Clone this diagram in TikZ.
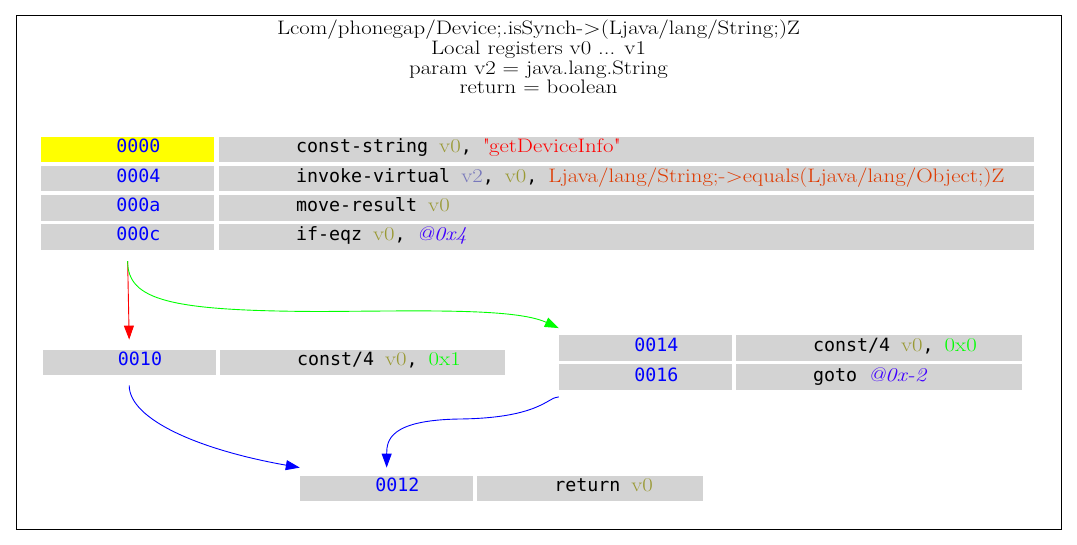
\documentclass[tikz,border=0pt]{standalone}
\usepackage{fontspec}
\setmainfont{Latin Modern Roman}[FakeStretch=1.17]
\setmonofont{DejaVu Sans Mono}
\usetikzlibrary{fit,arrows.meta}
\definecolor{cellgray}{HTML}{D3D3D3}
\definecolor{startyellow}{HTML}{FFFF00}
\definecolor{addrblue}{HTML}{0000FF}
\definecolor{regA}{HTML}{999933}
\definecolor{regC}{HTML}{7777BB}
\definecolor{strred}{HTML}{FF0000}
\definecolor{meth}{HTML}{DF3A01}
\definecolor{lit}{HTML}{00FF00}
\definecolor{offc}{HTML}{4000FF}
\definecolor{jumpblue}{HTML}{0000FF}
\definecolor{truegreen}{HTML}{00FF00}
\definecolor{falsered}{HTML}{FF0000}
\newcommand\monofnt{\fontsize{18.3}{20}\selectfont\ttfamily}
\newcommand\titlefnt{\fontsize{19.5}{20}\selectfont\rmfamily}
\newcommand\R[2]{{\color{#1}\rmfamily\fontsize{19.5}{20}\selectfont #2}}
\newcommand\RI[2]{{\color{#1}\rmfamily\itshape\fontsize{19.5}{20}\selectfont #2}}
\begin{document}
\begin{tikzpicture}[x=1pt,y=-1pt,
  cellbox/.style={fill=cellgray, draw=none, inner sep=0pt},
  addr/.style={anchor=base, inner sep=0pt, font=\monofnt, text=addrblue},
  instr/.style={anchor=base west, inner sep=0pt, font=\monofnt, text=black},
  titleline/.style={anchor=base, inner sep=0pt, font=\titlefnt},
  block/.style={draw=none, inner xsep=3pt},
  edge/.style={-{Triangle[length=14pt,width=10pt]}, line width=0.9pt}
]
\useasboundingbox (0,0) rectangle (1077,545);
\node[draw=black, line width=1pt, inner sep=0pt, fit={(16,16)(1061,529)}] (frame) {};

\node[titleline] (t1) at (538.5,35) {Lcom/phonegap/Device;.isSynch->(Ljava/lang/String;)Z};
\node[titleline] (t2) at (538.5,54.7) {Local registers v0 ... v1};
\node[titleline] (t3) at (538.5,74.3) {param v2 = java.lang.String};
\node[titleline] (t4) at (538.5,94) {return = boolean};

% block 1
\node[cellbox, fill=startyellow, fit={(41,136.7)(214.3,162.2)}] (a0) {};
\node[cellbox, fit={(219,136.7)(1033.5,162.2)}] (i0) {};
\node[cellbox, fit={(41,165.9)(214.3,191.4)}] (a1) {};
\node[cellbox, fit={(219,165.9)(1033.5,191.4)}] (i1) {};
\node[cellbox, fit={(41,195.1)(214.3,220.6)}] (a2) {};
\node[cellbox, fit={(219,195.1)(1033.5,220.6)}] (i2) {};
\node[cellbox, fit={(41,224.3)(214.3,249.8)}] (a3) {};
\node[cellbox, fit={(219,224.3)(1033.5,249.8)}] (i3) {};
\node[addr] (ta0) at ([xshift=97.5pt,yshift=9.5pt]a0.south west) {0000};
\node[addr] (ta1) at ([xshift=97.5pt,yshift=9.5pt]a1.south west) {0004};
\node[addr] (ta2) at ([xshift=97.5pt,yshift=9.5pt]a2.south west) {000a};
\node[addr] (ta3) at ([xshift=97.5pt,yshift=9.5pt]a3.south west) {000c};
\node[instr] (ti0) at ([xshift=77pt,yshift=9.5pt]i0.south west) {const-string \R{regA}{v0}, \R{strred}{\textquotedbl getDeviceInfo\textquotedbl}};
\node[instr] (ti1) at ([xshift=77pt,yshift=9.5pt]i1.south west) {invoke-virtual \R{regC}{v2}, \R{regA}{v0}, \R{meth}{Ljava/lang/String;->equals(Ljava/lang/Object;)Z}};
\node[instr] (ti2) at ([xshift=77pt,yshift=9.5pt]i2.south west) {move-result \R{regA}{v0}};
\node[instr] (ti3) at ([xshift=77pt,yshift=9.5pt]i3.south west) {if-eqz \R{regA}{v0}, \RI{offc}{@0x4}};
\node[block, inner ysep=10.9pt, fit={(a0)(i3)}] (B1) {};

% block 0010
\node[cellbox, fit={(42.7,350)(215.7,375)}] (a10) {};
\node[cellbox, fit={(220,350)(505,375)}] (i10) {};
\node[addr] (ta10) at ([xshift=97.5pt,yshift=9.5pt]a10.south west) {0010};
\node[instr] (ti10) at ([xshift=77pt,yshift=9.5pt]i10.south west) {const/4 \R{regA}{v0}, \R{lit}{0x1}};
\node[block, inner ysep=10pt, fit={(a10)(i10)}] (B2) {};

% block 0014
\node[cellbox, fit={(559,335)(732.3,360.7)}] (a14) {};
\node[cellbox, fit={(736,335)(1021.7,360.7)}] (i14) {};
\node[cellbox, fit={(559,364.3)(732.3,390)}] (a16) {};
\node[cellbox, fit={(736,364.3)(1021.7,390)}] (i16) {};
\node[addr] (ta14) at ([xshift=97.5pt,yshift=9pt]a14.south west) {0014};
\node[addr] (ta16) at ([xshift=97.5pt,yshift=9pt]a16.south west) {0016};
\node[instr] (ti14) at ([xshift=77pt,yshift=9pt]i14.south west) {const/4 \R{regA}{v0}, \R{lit}{0x0}};
\node[instr] (ti16) at ([xshift=77pt,yshift=9pt]i16.south west) {goto \RI{offc}{@0x-2}};
\node[block, inner ysep=6.5pt, fit={(a14)(i16)}] (B3) {};

% block 0012
\node[cellbox, fit={(300,475.5)(473.3,500.7)}] (a12) {};
\node[cellbox, fit={(477.3,475.5)(702.7,500.7)}] (i12) {};
\node[addr] (ta12) at ([xshift=97.5pt,yshift=9pt]a12.south west) {0012};
\node[instr] (ti12) at ([xshift=77pt,yshift=9pt]i12.south west) {return \R{regA}{v0}};
\node[block, inner ysep=7.5pt, fit={(a12)(i12)}] (B4) {};

% edges
\draw[edge, falsered] (a3.center |- B1.south) -- (a10.center |- B2.north);
\draw[edge, truegreen] (a3.center |- B1.south) .. controls +(0,39.3) and (170,311) .. (320,311.5)
   .. controls (420,311) and (515,308) .. (a14.west |- B3.north);
\draw[edge, jumpblue] (a10.center |- B2.south) .. controls +(0,34.3) and (200,450) .. (a12.west |- B4.north);
\draw[edge, jumpblue] (a16.west |- B3.south) .. controls +(-11,0) and (540,418) .. (460,419)
   .. controls (390,420) and (386.7,440) .. (a12.center |- B4.north);
\end{tikzpicture}
\end{document}
